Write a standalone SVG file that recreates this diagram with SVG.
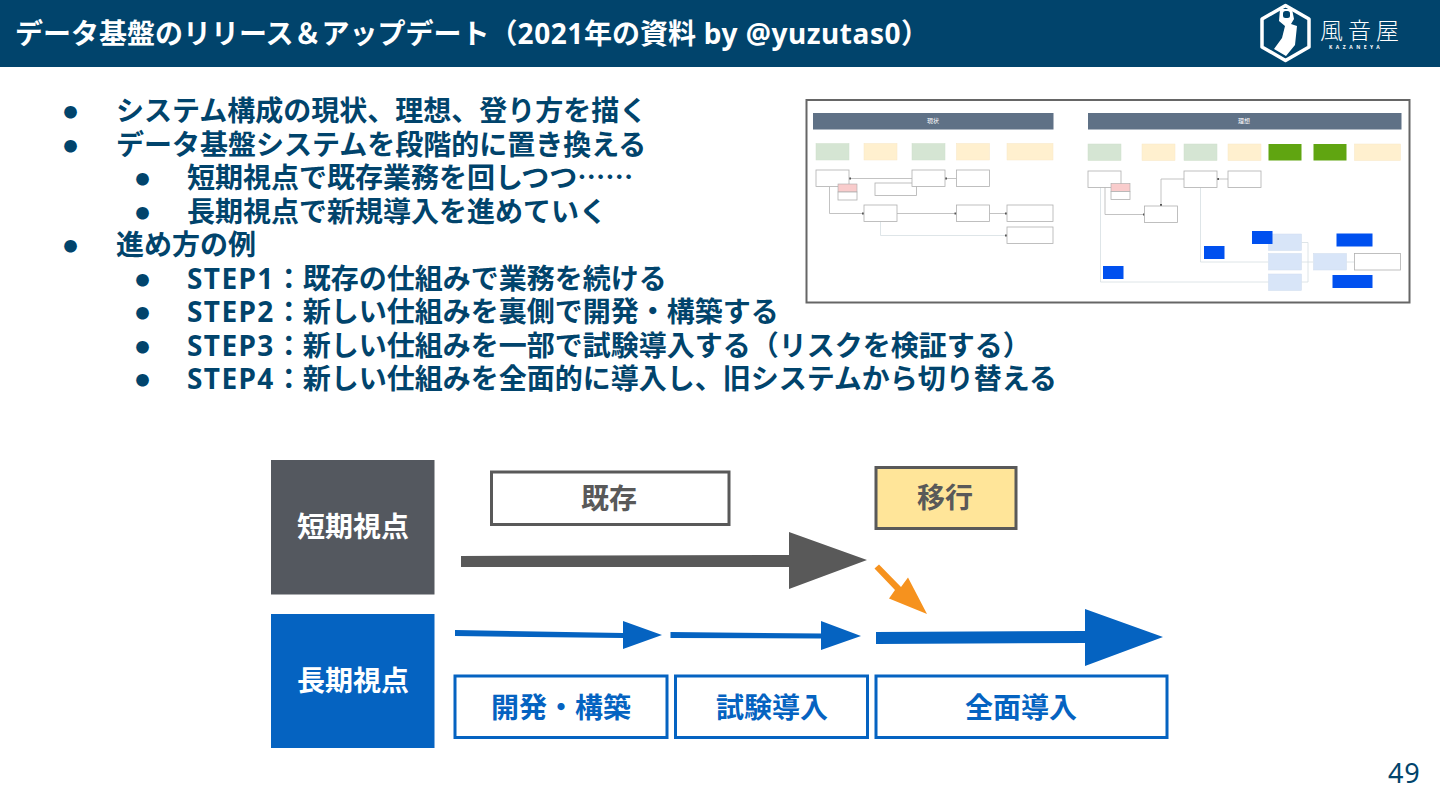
<svg xmlns="http://www.w3.org/2000/svg" width="1440" height="810" viewBox="0 0 1440 810">
<defs>
<style>
text{font-family:"Noto Sans","Noto Sans CJK JP",sans-serif}
.b{font-weight:700;font-size:28px;fill:#01446c}
.d{font-size:14px;fill:#01446c;font-family:"Noto Sans CJK JP",sans-serif}
.s{letter-spacing:1.4px}
.lab{font-weight:700;font-size:28px;text-anchor:middle}
.c{text-anchor:middle}
.hd{fill:#5f7186}
.g{fill:#d5e5d3;stroke:#cfe0cc;stroke-width:.5}
.y{fill:#fff0cf;stroke:#f8e8c5;stroke-width:.5}
.dg{fill:#60a511}
.bl{fill:#0050ef}
.lb{fill:#d8e5f8;stroke:#d0dcee;stroke-width:.5}
.w{fill:#fff;stroke:#b0b0b0;stroke-width:.8}
.p{fill:#f9cccc;stroke:#a8a8a8;stroke-width:.6}
.ln{fill:none;stroke:#b4b4b4;stroke-width:.8}
.l2{fill:none;stroke:#d6dee2;stroke-width:.8}
.dot{fill:#555}
</style>
</defs>
<rect width="1440" height="810" fill="#fff"/>
<g id="header">
<rect width="1440" height="67" fill="#01446c"/>
<text x="15" y="44" font-size="28" font-weight="700" fill="#fff">データ基盤のリリース＆アップデート（<tspan letter-spacing=".55">2021</tspan>年の資料<tspan letter-spacing=".55"> by @yuzutas0</tspan>）</text>
</g>
<g id="logo">
<path d="M1285.500 5.500L1309 19V47L1285.500 60.500L1262 47V19Z" fill="none" stroke="#fff" stroke-width="3.500" stroke-linejoin="round"/>
<path d="M1280 9H1292L1294 19L1291 24L1297 26L1295 45L1286 56L1274 49L1282 38L1285 26L1279 21Z" fill="#fff"/>
<rect x="1283" y="11" width="7" height="7" fill="#01446c" rx="2.500"/>
<text x="1320" y="39" font-size="23" fill="#fff" letter-spacing="5" style="font-family:'Noto Sans CJK JP',sans-serif;font-weight:300">風音屋</text>
<text x="1329" y="49" font-size="5" font-weight="700" fill="#fff" letter-spacing="3.5">KAZANEYA</text>
</g>
<g id="bullets">
<text x="63.500" y="117" class="d">●</text>
<text x="116" y="121" class="b">システム構成の現状、理想、登り方を描く</text>
<text x="63.500" y="151" class="d">●</text>
<text x="116" y="155" class="b">データ基盤システムを段階的に置き換える</text>
<text x="135.500" y="184" class="d">●</text>
<text x="187" y="188" class="b">短期視点で既存業務を回しつつ<tspan style="font-family:'Noto Sans CJK JP',sans-serif">……</tspan></text>
<text x="135.500" y="218" class="d">●</text>
<text x="187" y="222" class="b">長期視点で新規導入を進めていく</text>
<text x="63.500" y="251" class="d">●</text>
<text x="116" y="255" class="b">進め方の例</text>
<text x="135.500" y="285" class="d">●</text>
<text x="187" y="289" class="b"><tspan class="s">STEP1</tspan>：既存の仕組みで業務を続ける</text>
<text x="135.500" y="318" class="d">●</text>
<text x="187" y="322" class="b"><tspan class="s">STEP2</tspan>：新しい仕組みを裏側で開発・構築する</text>
<text x="135.500" y="352" class="d">●</text>
<text x="187" y="356" class="b"><tspan class="s">STEP3</tspan>：新しい仕組みを一部で試験導入する（リスクを検証する）</text>
<text x="135.500" y="385" class="d">●</text>
<text x="187" y="389" class="b"><tspan class="s">STEP4</tspan>：新しい仕組みを全面的に導入し、旧システムから切り替える</text>
</g>
<g id="thumbnail">
<rect x="806.500" y="100" width="603" height="202.500" fill="#fff" stroke="#666" stroke-width="2"/>
<rect class="hd" x="813" y="113" width="240.500" height="16.500"/>
<text class="c" x="933" y="123" font-size="6" fill="#fff">現状</text>
<rect class="hd" x="1088" y="113" width="313.500" height="16.500"/>
<text class="c" x="1244" y="123" font-size="6" fill="#fff">理想</text>
<rect class="g" x="816" y="143.500" width="33" height="16.500"/>
<rect class="y" x="864" y="143.500" width="33" height="16.500"/>
<rect class="g" x="912" y="143.500" width="33" height="16.500"/>
<rect class="y" x="956.500" y="143.500" width="33" height="16.500"/>
<rect class="y" x="1007" y="143.500" width="46" height="16.500"/>
<rect class="g" x="1088" y="144" width="33" height="16.500"/>
<rect class="y" x="1142" y="144" width="33" height="16.500"/>
<rect class="g" x="1184" y="144" width="33" height="16.500"/>
<rect class="y" x="1228" y="144" width="33" height="16.500"/>
<rect class="dg" x="1268.500" y="144" width="33" height="16.500"/>
<rect class="dg" x="1313.500" y="144" width="33" height="16.500"/>
<rect class="y" x="1354.500" y="144" width="46" height="16.500"/>
<g id="thumb-links">
<path class="ln" d="M850 178.500H912M956.500 178.500H945M829.500 187V213.500H864M897 213.500H956.500M989.500 213.500H1007"/>
<path class="l2" d="M880.500 222V235.500H1007"/>
<path class="ln" d="M1105 187V214.500H1145M1184 179H1161V205M1228 179H1217"/>
<path class="l2" d="M1100.500 187V282H1268.500M1200.500 188V262H1268M1301.500 242.500H1308V282H1301.500M1301.500 262H1313M1346.500 262H1354.500"/>
<rect class="dot" x="849" y="177.500" width="2" height="2"/>
<rect class="dot" x="945" y="177.500" width="2" height="2"/>
<rect class="dot" x="862" y="212.500" width="2" height="2"/>
<rect class="dot" x="954.500" y="212.500" width="2" height="2"/>
<rect class="dot" x="1005" y="212.500" width="2" height="2"/>
<rect class="dot" x="1005" y="234.500" width="2" height="2"/>
<rect class="dot" x="1143" y="213.500" width="2" height="2"/>
<rect class="dot" x="1160" y="204" width="2" height="2"/>
<rect class="dot" x="1217" y="178" width="2" height="2"/>
</g>
<rect class="w" x="816" y="170" width="33" height="16.500"/>
<rect class="p" x="838" y="184" width="19" height="8"/>
<rect class="w" x="838" y="192" width="19" height="8"/>
<rect class="w" x="875" y="183" width="41.500" height="12.500"/>
<rect class="w" x="912" y="170" width="33" height="16.500"/>
<rect class="w" x="956.500" y="170" width="33" height="16.500"/>
<rect class="w" x="864" y="205" width="33" height="16.500"/>
<rect class="w" x="956.500" y="205" width="33" height="16.500"/>
<rect class="w" x="1007" y="205" width="46" height="16.500"/>
<rect class="w" x="1007" y="227" width="46" height="16.500"/>
<rect class="w" x="1088" y="171" width="33" height="16.500"/>
<rect class="p" x="1111" y="183.500" width="19" height="8"/>
<rect class="w" x="1111" y="191.500" width="19" height="8"/>
<rect class="w" x="1144.500" y="206" width="33" height="16.500"/>
<rect class="w" x="1184" y="171" width="33" height="16.500"/>
<rect class="w" x="1228" y="171" width="33" height="16.500"/>
<rect class="lb" x="1268.500" y="234" width="33" height="16.500"/>
<rect class="lb" x="1268.500" y="253.500" width="33" height="16.500"/>
<rect class="lb" x="1268.500" y="274" width="33" height="16.500"/>
<rect class="lb" x="1313.500" y="253.500" width="33" height="16.500"/>
<rect class="w" x="1354.500" y="253.500" width="46" height="16.500"/>
<rect class="bl" x="1103" y="266" width="20.500" height="13"/>
<rect class="bl" x="1204" y="246" width="20.500" height="13"/>
<rect class="bl" x="1252" y="231" width="20.500" height="13"/>
<rect class="bl" x="1336.500" y="233.500" width="36" height="13"/>
<rect class="bl" x="1332.500" y="275" width="40" height="13"/>
</g>
<g id="connectors">
<polygon fill="#595959" points="461,556 789,555 789,532 867,560 789,589 789,567 461,567"/>
<polygon fill="#f6921e" points="874.500,568.500 879,564.500 901,587 908,577.500 927,614 889,598.500 895,590"/>
<polygon fill="#0563c1" points="455,630 623,633 623,621 662,635 623,649 623,638 455,636"/>
<polygon fill="#0563c1" points="670.500,632 821,633.500 821,621 861,636 821,650 821,638.500 670.500,638"/>
<polygon fill="#0563c1" points="876,632 1085,631 1085,609 1163,637 1085,666 1085,643 876,644"/>
</g>
<g id="n-short">
<rect x="271" y="460" width="163.500" height="134.500" fill="#54585f"/>
<text class="lab" x="353" y="537" fill="#fff">短期視点</text>
</g>
<g id="n-long">
<rect x="271" y="614" width="163.500" height="134" fill="#0563c1"/>
<text class="lab" x="353" y="691" fill="#fff">長期視点</text>
</g>
<g id="n-existing">
<rect x="491.500" y="472" width="237.500" height="52.500" fill="#fff" stroke="#595959" stroke-width="3"/>
<text class="lab" x="609" y="509" fill="#595959">既存</text>
</g>
<g id="n-migrate">
<rect x="876" y="467.500" width="140" height="61" fill="#ffe599" stroke="#595959" stroke-width="3"/>
<text class="lab" x="945" y="508" fill="#595959">移行</text>
</g>
<g id="n-dev">
<rect x="455" y="676" width="212" height="61.500" fill="#fff" stroke="#0563c1" stroke-width="3"/>
<text class="lab" x="561" y="718" fill="#0563c1">開発・構築</text>
</g>
<g id="n-trial">
<rect x="675.500" y="676" width="192" height="61.500" fill="#fff" stroke="#0563c1" stroke-width="3"/>
<text class="lab" x="772" y="718" fill="#0563c1">試験導入</text>
</g>
<g id="n-full">
<rect x="876" y="676" width="291" height="61.500" fill="#fff" stroke="#0563c1" stroke-width="3"/>
<text class="lab" x="1021" y="718" fill="#0563c1">全面導入</text>
</g>
<text x="1388" y="783" font-size="27" fill="#01446c" letter-spacing=".8">49</text>
</svg>
